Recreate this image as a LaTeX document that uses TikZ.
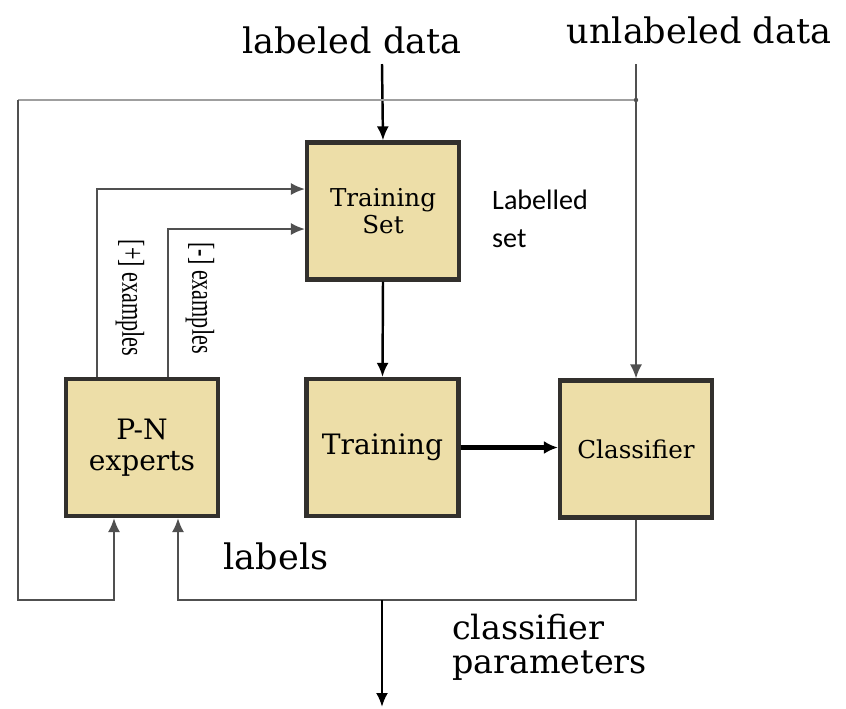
\documentclass[tikz,border=0pt]{standalone}
\usepackage{fontspec}
\setmainfont{DejaVu Serif}
\newfontfamily\dser{DejaVu Serif}
\newfontfamily\carl{Carlito}
\newfontfamily\libser{Liberation Serif}
\usetikzlibrary{arrows.meta}
\definecolor{boxfill}{RGB}{237,222,168}
\definecolor{boxline}{RGB}{50,48,45}
\definecolor{wire}{RGB}{80,80,80}
\begin{document}
\begin{tikzpicture}[x=0.02cm,y=-0.02cm,
  blk/.style={draw=boxline,fill=boxfill,line width=2.4pt,minimum width=3.04cm,minimum height=2.74cm,inner sep=0pt,align=center},
  wirel/.style={draw=wire,line width=1pt},
  arr/.style={wirel,-{Latex[length=0.28cm,width=0.24cm]}},
  biglab/.style={font=\dser\fontsize{20}{17}\selectfont},
  rotlab/.style={font=\libser\fontsize{18}{18}\selectfont,rotate=-90},
]
\useasboundingbox (0,0) rectangle (846,708);
% blocks
\node[blk,font=\dser\fontsize{14}{15}\selectfont] (ts) at (383,211) {Training\\Set};
\node[blk,font=\dser\fontsize{16}{17}\selectfont] (tr) at (382.5,447.5) {Training};
\node[blk,font=\dser\fontsize{16}{18}\selectfont] (pn) at (142,447.5) {P-N\\experts};
\node[blk,font=\dser\fontsize{14}{15}\selectfont] (cl) at (636,449) {Classifier};
% texts
\node[biglab] (ldt) at (352,40) {labeled data};
\node[biglab] (udt) at (699,30) {unlabeled data};
\node[biglab] (lbt) at (276,556) {labels};
\node[biglab,font=\dser\fontsize{19}{19.5}\selectfont,align=left,anchor=west] (cpt) at (446,647) {classifier\\parameters};
\node[font=\carl\fontsize{16}{21.6}\selectfont,align=left,anchor=west] (lst) at (486,219) {Labelled\\set};
\node[rotlab] (pex) at (130,298) {\scalebox{0.7}[1]{[+] examples}};
\node[rotlab] (mex) at (200,298) {\scalebox{0.7}[1]{[-] examples}};
% coordinates
\coordinate (ldin) at (382,64);
\coordinate (udin) at (636,64);
\coordinate (jn) at (636,100);
\coordinate (tl) at (18,100);
\coordinate (bl) at (18,600);
\coordinate (p1) at (114,600);
\coordinate (p2) at (178,600);
\coordinate (cpo) at (382,600);
\coordinate (cpend) at (382,707);
\coordinate (xp) at (97,189);
\coordinate (xm) at (168,229);
% connectors
\draw[arr,line width=1.4pt,draw=black] (ldin) -- (ts.north);
\draw[arr] (udin) -- (cl.north);
\draw[wirel,draw=gray!75,line width=1.4pt] (jn) -- (tl);
\draw[arr] (tl) -- (bl) -- (p1) -- (p1 |- pn.south);
\fill[wire] (jn) circle (2.2);
\draw[arr] (cl.south) |- (p2) -- (p2 |- pn.south);
\draw[arr,line width=1.4pt,draw=black] (cpo) -- (cpend);
\draw[arr,line width=1.4pt,draw=black] (ts.south) -- (tr.north);
\draw[draw=black,line width=2.6pt,-{Latex[length=0.28cm,width=0.26cm]}] (tr.east) -- (cl.west |- tr.east);
\draw[arr] (pn.north -| xp) |- (ts.west |- xp);
\draw[arr] (pn.north -| xm) |- (ts.west |- xm);
\end{tikzpicture}
\end{document}
